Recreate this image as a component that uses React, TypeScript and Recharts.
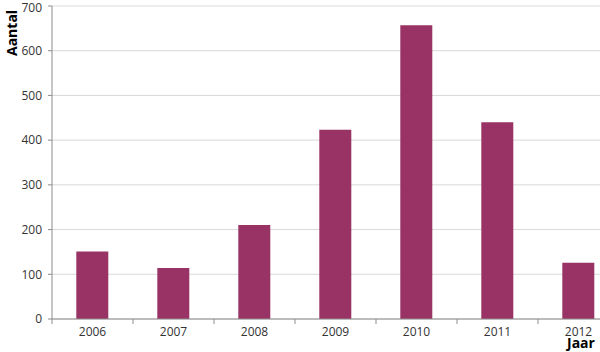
import { Bar, BarChart, CartesianGrid, XAxis, YAxis } from "recharts";

const years = ["2006", "2007", "2008", "2009", "2010", "2011", "2012"];
const counts = [151, 114, 210, 423, 657, 440, 126];
const yTicks = [0, 100, 200, 300, 400, 500, 600, 700];

const data = years.map((year, i) => ({ year, aantal: counts[i] }));

const font = "'Open Sans', sans-serif";

function YearTick(props: any) {
  const { x, y, payload } = props;
  const half = payload.offset || 0;
  return (
    <g>
      <line x1={x - half} x2={x - half} y1={y - 8} y2={y - 3} stroke="#8c8c8c" />
      <text x={x} y={y + 9} textAnchor="middle" fontSize={12} fill="#333" fontFamily={font}>
        {payload.value}
      </text>
    </g>
  );
}

export default function App() {
  return (
    <div
      style={{
        position: "fixed",
        left: 0,
        top: 0,
        width: 600,
        height: 352,
        overflow: "hidden",
        background: "#fff",
      }}
    >
      <BarChart
        width={620}
        height={352}
        data={data}
        margin={{ top: 6, right: 1, left: 0, bottom: 0 }}
        barCategoryGap="30%"
      >
        <CartesianGrid stroke="#d9d9d9" vertical={false} />
        <XAxis
          dataKey="year"
          height={33}
          stroke="#8c8c8c"
          tickLine={false}
          tick={<YearTick />}
          interval={0}
        />
        <YAxis
          width={52}
          domain={[0, 700]}
          ticks={yTicks}
          stroke="#8c8c8c"
          tickSize={4}
          tickMargin={6}
          tick={{ fontSize: 12, fill: "#333", fontFamily: font }}
        />
        <Bar dataKey="aantal" fill="#993366" isAnimationActive={false} />
      </BarChart>
      <div
        style={{
          position: "absolute",
          left: 2,
          top: 3,
          width: 18,
          height: 60,
          fontFamily: font,
          fontWeight: "bold",
          fontSize: 14,
          color: "#000",
          writingMode: "vertical-rl",
          transform: "rotate(180deg)",
          textAlign: "center",
        }}
      >
        Aantal
      </div>
      <div
        style={{
          position: "absolute",
          left: 567,
          top: 335,
          fontFamily: font,
          fontWeight: "bold",
          fontSize: 14,
          lineHeight: "16px",
          color: "#000",
        }}
      >
        Jaar
      </div>
    </div>
  );
}
